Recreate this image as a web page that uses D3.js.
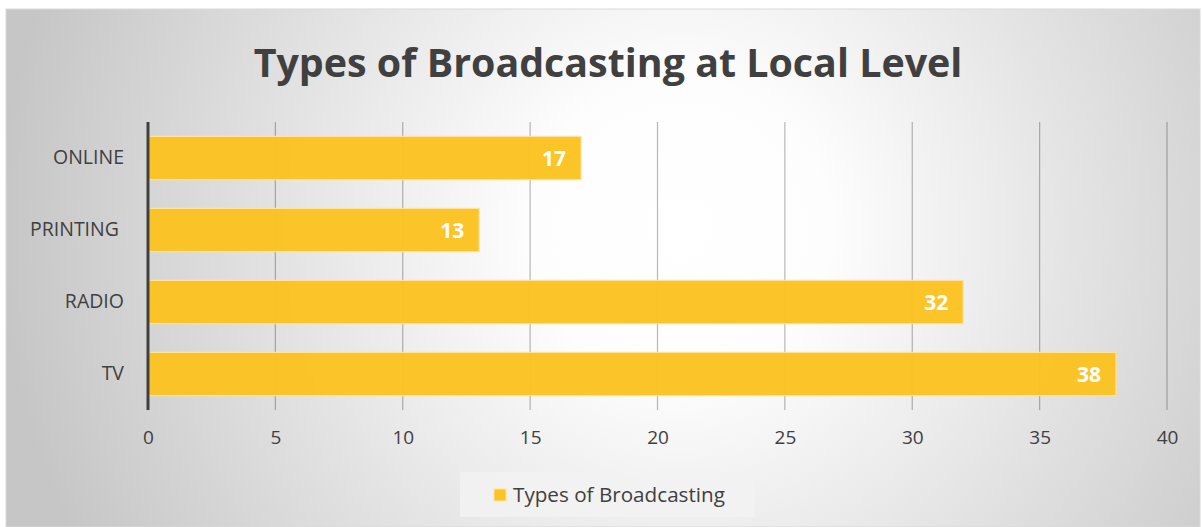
<!DOCTYPE html>
<html>
<head>
<meta charset="utf-8">
<script src="https://cdn.jsdelivr.net/npm/d3@7"></script>
<style>
  body { margin: 0; background: #fff; }
  svg text { font-family: "Open Sans", "Noto Sans", sans-serif; }
</style>
</head>
<body>
<svg id="chart" width="1202" height="527"></svg>
<script>
// dados do gráfico
let categorias = ["ONLINE", "PRINTING ", "RADIO", "TV"];
let valores = [17, 13, 32, 38];
let ticksX = [0, 5, 10, 15, 20, 25, 30, 35, 40];
let titulo = "Types of Broadcasting at Local Level";
let nomeSerie = "Types of Broadcasting";

let svg = d3.select("#chart");
let width = 1202, height = 527;
let margem = {top: 122, right: 35, bottom: 117, left: 148};

// fundo com gradiente radial
let defs = svg.append("defs");
let grad = defs.append("radialGradient")
    .attr("id", "fundo")
    .attr("gradientUnits", "userSpaceOnUse")
    .attr("cx", 680).attr("cy", 230).attr("r", 680);
grad.append("stop").attr("offset", "0%").attr("stop-color", "#ffffff");
grad.append("stop").attr("offset", "22%").attr("stop-color", "#fdfdfd");
grad.append("stop").attr("offset", "100%").attr("stop-color", "#c6c6c6");

svg.append("rect")
    .attr("x", 6).attr("y", 9)
    .attr("width", 1194).attr("height", 518)
    .attr("fill", "url(#fundo)")
    .attr("stroke", "#d9d9d9");

let x = d3.scaleLinear()
    .domain([0, 40])
    .range([margem.left, 1167]);

let y = d3.scaleBand()
    .domain(categorias)
    .range([margem.top, 410])
    .paddingInner(0.4)
    .paddingOuter(0.2);

// linhas de grade
svg.append("g")
    .selectAll("line")
    .data(ticksX.slice(1))
    .enter().append("line")
    .attr("x1", d => x(d)).attr("x2", d => x(d))
    .attr("y1", margem.top).attr("y2", 410)
    .attr("stroke", "rgba(0,0,0,0.28)")
    .attr("stroke-width", 1.2);

// eixo x (só os rótulos)
let eixoX = svg.append("g")
    .attr("transform", "translate(0,410)")
    .call(d3.axisBottom(x).tickValues(ticksX).tickSize(0).tickPadding(21));
eixoX.select(".domain").remove();
eixoX.selectAll("text")
    .attr("font-size", 19)
    .attr("fill", "#404040")
    .style("font-family", '"Open Sans", sans-serif');

// barras
svg.append("g")
    .selectAll("rect")
    .data(valores)
    .enter().append("rect")
    .attr("x", x(0))
    .attr("y", (d, i) => y(categorias[i]))
    .attr("width", d => x(d) - x(0))
    .attr("height", y.bandwidth())
    .attr("fill", "#fbc323")
    .attr("fill-opacity", 0.97)
    .attr("stroke", "#fde49a")
    .attr("stroke-width", 1.2);

// rótulos de valor
svg.append("g")
    .selectAll("text")
    .data(valores)
    .enter().append("text")
    .attr("x", d => x(d) - 15)
    .attr("y", (d, i) => y(categorias[i]) + y.bandwidth() / 2)
    .attr("dy", "0.36em")
    .attr("text-anchor", "end")
    .attr("font-size", 21)
    .attr("font-weight", "bold")
    .attr("fill", "#ffffff")
    .text(d => d);

// eixo y
let eixoY = svg.append("g")
    .attr("transform", "translate(" + margem.left + ",0)")
    .call(d3.axisLeft(y).tickSize(0).tickPadding(24));
eixoY.select(".domain")
    .attr("d", "M0," + margem.top + "V410")
    .attr("stroke", "#404040")
    .attr("stroke-width", 3);
eixoY.selectAll("text")
    .attr("font-size", 19.5)
    .attr("fill", "#404040")
    .style("white-space", "pre")
    .style("font-family", '"Open Sans", sans-serif');

// título
let t = svg.append("text")
    .attr("x", 608)
    .attr("y", 77)
    .attr("text-anchor", "middle")
    .attr("font-size", 42)
    .attr("font-weight", "bold")
    .attr("fill", "#404040")
    .text(titulo);
// ajusta o tamanho para a largura do original
let larg = t.node().getComputedTextLength();
t.attr("font-size", 42 * 709 / larg);

// legenda
let leg = svg.append("g");
leg.append("rect")
    .attr("x", 460).attr("y", 472)
    .attr("width", 295).attr("height", 45)
    .attr("fill", "#f2f2f2")
    .attr("fill-opacity", 0.85);
leg.append("rect")
    .attr("x", 494).attr("y", 489)
    .attr("width", 12).attr("height", 12)
    .attr("fill", "#fbc323")
    .attr("stroke", "#fde49a");
let lt = leg.append("text")
    .attr("x", 513).attr("y", 502)
    .attr("font-size", 20)
    .attr("fill", "#404040")
    .text(nomeSerie);
lt.attr("font-size", 20 * 212 / lt.node().getComputedTextLength());
</script>
</body>
</html>
